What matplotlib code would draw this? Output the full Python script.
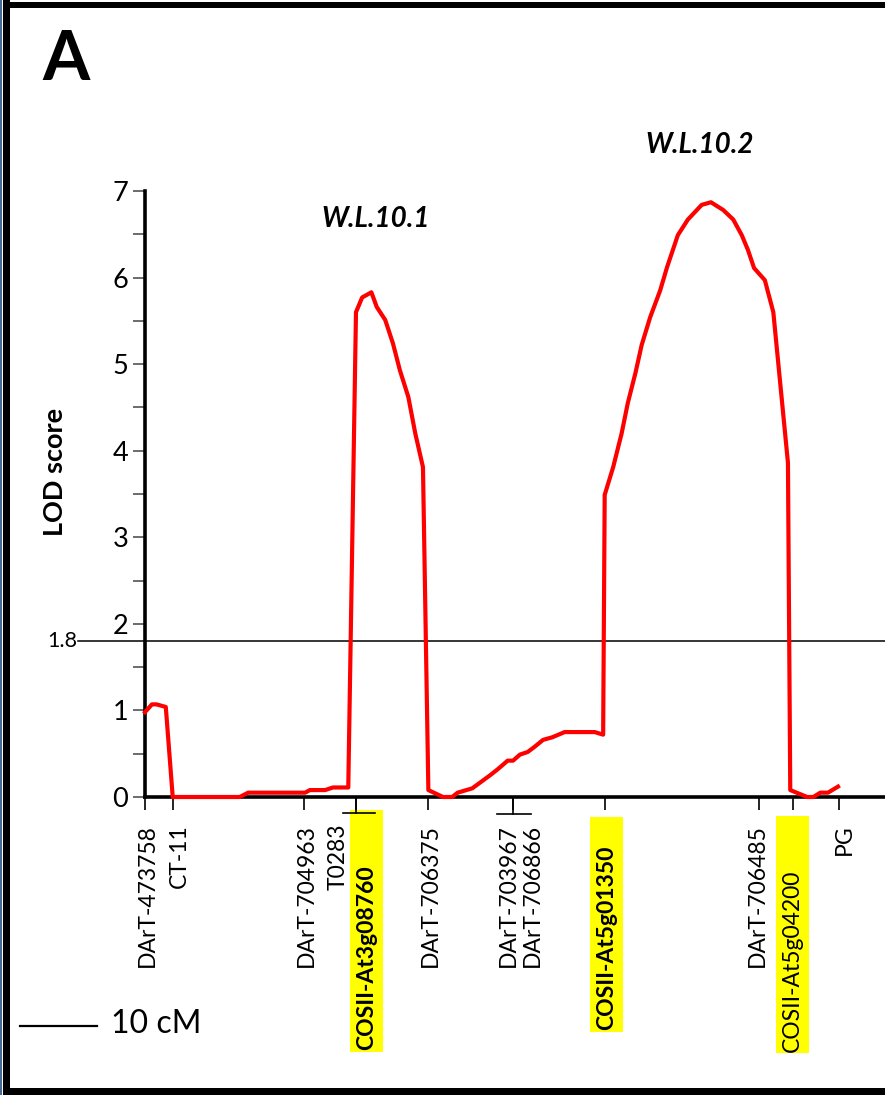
import numpy as np
import matplotlib
matplotlib.use("Agg")
import matplotlib.pyplot as plt
from matplotlib.transforms import blended_transform_factory, offset_copy
from matplotlib.patches import Rectangle
from matplotlib.lines import Line2D

plt.rcParams['font.family'] = ['Lato', 'DejaVu Sans']

# LOD profile along the linkage group (cM, LOD)
pos_cm = [0.0, 0.9, 1.5, 2.7, 3.6, 12.3, 13.4, 20.8, 21.4, 23.4, 24.4, 26.4,
          27.4, 28.2, 29.4, 30.1, 31.2, 32.2, 33.1, 34.2, 35.1, 36.1,
          36.8, 38.7, 39.9, 40.6, 42.5, 44.8, 45.8, 47.1, 47.8, 48.7, 49.7,
          50.6, 51.7, 52.9, 54.5, 58.4, 59.5,
          59.7, 60.8, 61.9, 62.7, 63.7, 64.5, 65.6, 66.9, 67.8, 69.2, 70.5,
          72.3, 73.5, 75.1, 76.4, 77.5, 78.3, 79.1, 80.5, 81.6, 83.5,
          83.8, 86.0, 86.8, 87.7, 88.7, 90.0]
lod = [0.98, 1.07, 1.07, 1.04, 0.0, 0.0, 0.05, 0.05, 0.08, 0.08, 0.11, 0.11,
       5.6, 5.77, 5.83, 5.66, 5.51, 5.24, 4.93, 4.62, 4.20, 3.81,
       0.08, 0.0, 0.0, 0.05, 0.10, 0.25, 0.32, 0.42, 0.42, 0.49, 0.52,
       0.58, 0.66, 0.69, 0.75, 0.75, 0.72,
       3.49, 3.81, 4.20, 4.55, 4.90, 5.22, 5.54, 5.85, 6.12, 6.49, 6.67,
       6.84, 6.87, 6.78, 6.67, 6.49, 6.32, 6.11, 5.97, 5.60, 3.86,
       0.08, 0.0, 0.0, 0.05, 0.05, 0.12]

threshold = 1.8

markers = ['DArT-473758', 'CT-11', 'DArT-704963', 'T0283', 'COSII-At3g08760',
           'DArT-706375', 'DArT-703967', 'DArT-706866', 'COSII-At5g01350',
           'DArT-706485', 'COSII-At5g04200', 'PG']
marker_cm = [0.0, 3.6, 20.6, 27.4, 27.4, 36.8, 47.8, 47.8, 59.7, 79.7, 84.2, 90.1]
highlighted = ['COSII-At3g08760', 'COSII-At5g01350', 'COSII-At5g04200']
bold_markers = ['COSII-At3g08760', 'COSII-At5g01350']

qtl_names = ['W.L.10.1', 'W.L.10.2']

# layout (pixels)
W, H = 885, 1095
PX_PER_CM = 7.7
label_dx = [2, 7, 3, -18, 11, 2, -5, 19, 2, -1, -1, 6]
box_ext = {'COSII-At3g08760': (810, 1052, 1050),
           'COSII-At5g01350': (817, 1032, 1030),
           'COSII-At5g04200': (816, 1053, 1052)}
brackets = {27.4: (-13, 19, 813), 47.8: (-16, 18, 814)}


def fy(py):
    return 1 - py / H


fig = plt.figure(figsize=(W / 100, H / 100), dpi=100)
ax = fig.add_axes([145 / W, fy(797), (W - 145) / W, (797 - 191) / H])
ax.set_xlim(0, (W - 145) / PX_PER_CM)
ax.set_ylim(0, 7)

ax.plot(pos_cm, lod, color='#ff0000', lw=3, solid_joinstyle='round', clip_on=False, zorder=3)
ax.axhline(threshold, color='black', lw=1.1, zorder=2)
# threshold line continues to the left of the axis
fig.add_artist(Line2D([78 / W, 145 / W], [fy(641), fy(641)], color='black', lw=1.1))
fig.text(77 / W, fy(641), '1.8', ha='right', va='center', fontsize=15.5)

for s in ['top', 'right']:
    ax.spines[s].set_visible(False)
ax.spines['left'].set_linewidth(2.6)
ax.spines['bottom'].set_linewidth(2.6)

ax.set_yticks(range(0, 8))
ax.set_yticks(np.arange(0.5, 7, 1), minor=True)
ax.tick_params(axis='y', which='both', direction='out', length=9, width=1.1,
               color='#444444', labelsize=19.5, pad=3)
ax.set_xticks(sorted(set(marker_cm)))
ax.set_xticklabels([])
ax.tick_params(axis='x', direction='out', length=9.5, width=1.2, color='black')

fig.text(55 / W, fy(472), 'LOD score', rotation=90, ha='center', va='center',
         fontsize=19.5, fontweight='bold')

# marker labels
trans = blended_transform_factory(ax.transData, fig.transFigure)
for name, x, dx in zip(markers, marker_cm, label_dx):
    t = offset_copy(trans, fig=fig, x=dx, y=0, units='dots')
    weight = 'bold' if name in bold_markers else 'normal'
    if name in highlighted:
        top, bot, tbot = box_ext[name]
        bw = 33 / PX_PER_CM
        fig.add_artist(Rectangle((x - bw / 2, fy(bot)), bw, (bot - top) / H,
                                 transform=t, facecolor='#ffff00', edgecolor='none', zorder=1))
        fig.text(x, fy(tbot), name, transform=t, rotation=90, ha='center', va='bottom',
                 fontsize=16.5, fontweight=weight, zorder=2)
    else:
        fig.text(x, fy(824), name, transform=t, rotation=90, ha='center', va='top',
                 fontsize=16.5, fontweight=weight)

for x, (d0, d1, py) in brackets.items():
    t0 = offset_copy(trans, fig=fig, x=d0, y=0, units='dots')
    t1 = offset_copy(trans, fig=fig, x=d1, y=0, units='dots')
    fig.add_artist(Line2D([x, x], [fy(797), fy(py)], transform=trans, color='black', lw=1.2))
    x0 = t0.transform((x, fy(py)))
    x1 = t1.transform((x, fy(py)))
    fig.add_artist(Line2D([x0[0], x1[0]], [x0[1], x1[1]], transform=None, color='black', lw=1.2))

# QTL names
fig.text(376 / W, fy(219), qtl_names[0], ha='center', va='center', fontsize=20,
         fontweight='bold', style='italic')
fig.text(700 / W, fy(145), qtl_names[1], ha='center', va='center', fontsize=20,
         fontweight='bold', style='italic')

# panel letter
fig.text(42 / W, fy(60), 'A', ha='left', va='center', fontsize=49, fontweight='bold')

# scale bar
fig.add_artist(Line2D([20 / W, 97 / W], [fy(1026), fy(1026)], color='black', lw=1.6))
fig.text(111 / W, fy(1024), '10 cM', ha='left', va='center', fontsize=23)

# frame
fig.add_artist(Rectangle((0, 0), 2 / W, 1, transform=fig.transFigure, facecolor='#4a6a9a',
                         edgecolor='none'))
fig.add_artist(Rectangle((3 / W, 0), 7 / W, 1, transform=fig.transFigure, facecolor='black',
                         edgecolor='none'))
fig.add_artist(Rectangle((3 / W, fy(8)), 1, 6 / H, transform=fig.transFigure, facecolor='black',
                         edgecolor='none'))
fig.add_artist(Rectangle((3 / W, 0), 1, 7 / H, transform=fig.transFigure, facecolor='black',
                         edgecolor='none'))

fig.savefig('out.png', dpi=100)
